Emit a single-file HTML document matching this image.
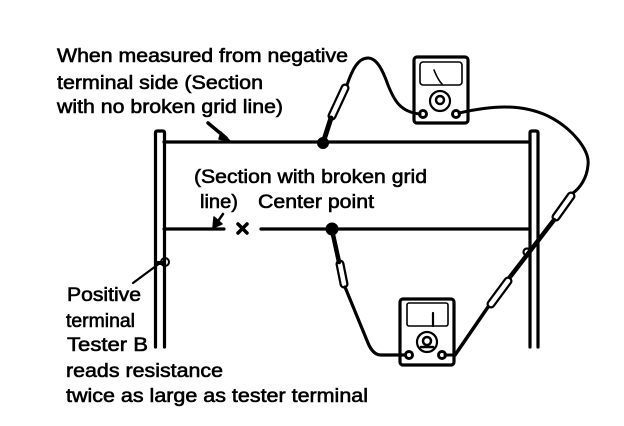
<!DOCTYPE html>
<html><head><meta charset="utf-8"><style>
html,body{margin:0;padding:0;background:#fff}
svg{display:block}
text{font-family:"Liberation Sans",sans-serif;font-size:19.5px;fill:#000;stroke:#000;stroke-width:.6px}
</style></head><body>
<svg width="624" height="426" viewBox="0 0 624 426" xmlns="http://www.w3.org/2000/svg">
<g fill="none" stroke="#000" stroke-width="3" stroke-linecap="round" stroke-linejoin="round">
<!-- bars -->
<path d="M155.500 347V133q0-2 2-2h5q2 0 2 2V347" stroke-width="3.200"/>
<path d="M530 347V133q0-2 2-2h4q2 0 2 2V347" stroke-width="3.200"/>
<!-- grid lines -->
<path d="M164 142H529M164 229H224M261 229H529" stroke-width="3.200"/>
<!-- x -->
<path d="M238 224l9 9M247 224l-9 9" stroke-width="3.500"/>
<!-- arrows -->
<path d="M208 123L226 138" stroke-width="3.500"/>
<path d="M221 132l9 9-11-2z" fill="#000" stroke-width="1.500"/>
<path d="M223 214L216 224" stroke-width="2.500"/>
<path d="M213 228l1-11 8 7z" fill="#000" stroke-width="1.500"/>
<!-- positive terminal -->
<circle cx="165" cy="262" r="4" stroke-width="2"/>
<path d="M133 283L160 263" stroke-width="2.200"/>
<path d="M156 263h8" stroke-width="4"/>
<!-- top meter -->
<rect x="414" y="57" width="54" height="66" rx="3" stroke-width="3.200"/>
<rect x="420" y="62" width="42" height="23" rx="3" stroke-width="1.600"/>
<path d="M434 70Q438 80 442 84" stroke-width="1.600"/>
<circle cx="440" cy="101" r="10" stroke-width="2.200"/>
<circle cx="440" cy="100" r="4" stroke-width="2.500"/>
<circle cx="423" cy="114" r="3.500"/>
<circle cx="456" cy="114" r="3.500"/>
<!-- top meter wires -->
<path d="M420 114C400 112 394 100 388 85C382 68 376 58 368 58C358 58 352 70 347 85"/>
<path d="M459 113C490 106 520 103 548 116C572 128 590 150 588 165C587 178 580 188 573 193"/>
<!-- probes: outer dark, inner white -->
<path d="M345 88L332 116M571 196L556 217M508 281L491 304M340 264L344 284" stroke-width="9"/>
<path d="M345 88L332 116M571 196L556 217M508 281L491 304M340 264L344 284" stroke="#fff" stroke-width="4.500"/>
<path d="M331 118L323 143" stroke-width="5"/>
<circle cx="323" cy="143" r="4.500" fill="#000"/>
<path d="M554 220L510 277" stroke-width="4.500"/>
<circle cx="527" cy="252" r="3.500" stroke-width="2.200"/>
<path d="M488 307L455 355" stroke-width="3.500"/>
<!-- bottom meter -->
<rect x="400" y="299" width="54" height="66" rx="3" stroke-width="3.200"/>
<rect x="407" y="303" width="41" height="23" rx="2" stroke-width="1.600"/>
<path d="M433 313V326" stroke-width="2.200"/>
<circle cx="427" cy="342" r="10" stroke-width="2.200"/>
<circle cx="427" cy="341" r="4" stroke-width="2.500"/>
<path d="M421 347h12" stroke-width="2.500"/>
<circle cx="409" cy="355" r="3.500"/>
<circle cx="442" cy="355" r="3.500"/>
<path d="M445 355H455"/>
<!-- bottom-left wire -->
<circle cx="332" cy="229" r="5" fill="#000"/>
<path d="M332 230L339 262" stroke-width="4.500"/>
<path d="M345 287L368 343Q373 355 381 355H405" stroke-width="3.200"/>
</g>
<text x="57" y="62" textLength="291" lengthAdjust="spacingAndGlyphs">When measured from negative</text>
<text x="57" y="89" textLength="206" lengthAdjust="spacingAndGlyphs">terminal side (Section</text>
<text x="57" y="113" textLength="226" lengthAdjust="spacingAndGlyphs">with no broken grid line)</text>
<text x="194" y="183" textLength="233" lengthAdjust="spacingAndGlyphs">(Section with broken grid</text>
<text x="200" y="208" textLength="38" lengthAdjust="spacingAndGlyphs">line)</text>
<text x="258" y="208" textLength="116" lengthAdjust="spacingAndGlyphs">Center point</text>
<text x="67" y="301" textLength="74" lengthAdjust="spacingAndGlyphs">Positive</text>
<text x="66" y="327" textLength="69" lengthAdjust="spacingAndGlyphs">terminal</text>
<text x="67" y="351" textLength="81" lengthAdjust="spacingAndGlyphs">Tester B</text>
<text x="66" y="377" textLength="157" lengthAdjust="spacingAndGlyphs">reads resistance</text>
<text x="66" y="402" textLength="302" lengthAdjust="spacingAndGlyphs">twice as large as tester terminal</text>
</svg>
</body></html>
